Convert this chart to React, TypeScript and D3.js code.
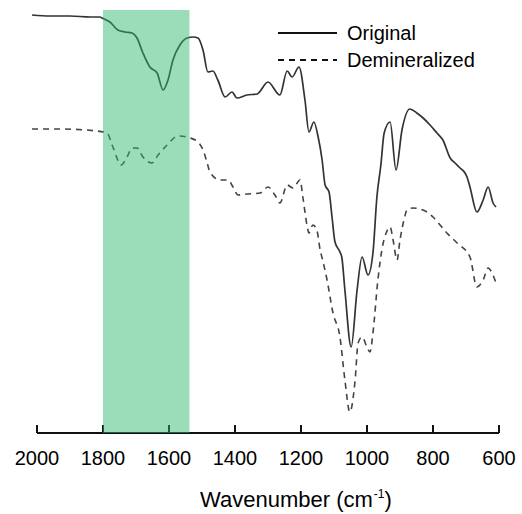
import React from "react";
import * as d3 from "d3";

// Wavenumber (cm-1), transmittance (a.u.)
const originalWavenumber = [2015, 1961, 1900, 1839, 1809, 1803, 1779, 1755, 1733, 1712, 1697, 1679, 1658, 1636, 1618, 1603, 1588, 1567, 1545, 1527, 1512, 1497, 1482, 1467, 1452, 1430, 1409, 1394, 1364, 1333, 1300, 1264, 1242, 1227, 1206, 1188, 1176, 1161, 1148, 1136, 1127, 1115, 1106, 1097, 1082, 1076, 1067, 1048, 1030, 1015, 997, 982, 970, 958, 948, 930, 912, 894, 870, 849, 830, 809, 788, 770, 748, 733, 718, 703, 697, 688, 667, 648, 633, 618, 609];
const originalValue = [418, 417, 417, 416, 416, 415, 411, 403, 401, 400, 395, 380, 366, 360, 343, 353, 373, 388, 395, 396, 395, 383, 361, 362, 353, 336, 341, 335, 338, 339, 351, 338, 362, 356, 366, 333, 301, 311, 296, 273, 248, 241, 216, 191, 181, 175, 143, 86, 143, 176, 158, 180, 236, 268, 300, 311, 263, 303, 324, 320, 315, 308, 300, 293, 275, 270, 265, 260, 256, 246, 221, 233, 246, 230, 226];

const demineralizedWavenumber = [2015, 1930, 1818, 1788, 1770, 1745, 1727, 1712, 1697, 1679, 1652, 1633, 1606, 1573, 1536, 1512, 1497, 1485, 1476, 1445, 1421, 1406, 1391, 1364, 1324, 1300, 1279, 1264, 1242, 1224, 1203, 1194, 1182, 1176, 1164, 1152, 1142, 1136, 1121, 1103, 1082, 1067, 1052, 1036, 1027, 1015, 1000, 991, 982, 967, 955, 942, 930, 921, 909, 900, 888, 879, 861, 818, 800, 758, 727, 688, 667, 648, 633, 621, 609];
const demineralizedValue = [304, 304, 302, 300, 286, 268, 276, 285, 285, 276, 270, 278, 288, 297, 295, 291, 283, 271, 261, 253, 253, 246, 238, 239, 240, 246, 238, 230, 248, 245, 253, 235, 208, 200, 208, 203, 183, 175, 153, 120, 96, 53, 21, 53, 90, 96, 86, 81, 100, 153, 183, 200, 206, 193, 173, 193, 213, 223, 225, 221, 216, 200, 190, 176, 146, 153, 165, 160, 150];

const xTicks = [2000, 1800, 1600, 1400, 1200, 1000, 800, 600];
const highlightBand = [1800, 1538];
const legendLabels = ["Original", "Demineralized"];

export default function App() {
  const W = 522;
  const H = 514;
  const x = d3.scaleLinear().domain([2000, 600]).range([37, 499]);
  const y = d3.scaleLinear().domain([0, 423]).range([433, 10]);
  const axisY = 433;

  const orig = originalWavenumber.map((w, i) => [w, originalValue[i]] as [number, number]);
  const demin = demineralizedWavenumber.map((w, i) => [w, demineralizedValue[i]] as [number, number]);

  const line = d3
    .line<[number, number]>()
    .x((d) => x(d[0]))
    .y((d) => y(d[1]))
    .curve(d3.curveMonotoneX);

  const font = "Arial, 'Liberation Sans', sans-serif";

  return (
    <svg
      width={W}
      height={H}
      style={{ position: "absolute", left: 0, top: 0, background: "#fff" }}
      fontFamily={font}
    >
      <rect x={0} y={0} width={W} height={H} fill="#fff" />
      {/* axis */}
      <line x1={x(2000)} x2={x(600)} y1={axisY} y2={axisY} stroke="#111" strokeWidth={2} />
      {xTicks.map((t) => (
        <g key={t}>
          <line x1={x(t)} x2={x(t)} y1={axisY} y2={axisY - 8} stroke="#111" strokeWidth={2} />
          <text x={x(t)} y={465} textAnchor="middle" fontSize={20} fill="#000">
            {t}
          </text>
        </g>
      ))}
      <text x={200} y={507} fontSize={22} fill="#000">
        Wavenumber (cm
        <tspan dx={1} dy={-9} fontSize={12}>-1</tspan>
        <tspan dy={9} fontSize={22}>)</tspan>
      </text>

      {/* curves */}
      <path d={line(orig) || ""} fill="none" stroke="#333" strokeWidth={1.7} />
      <path d={line(demin) || ""} fill="none" stroke="#444" strokeWidth={1.6} strokeDasharray="6,5" />

      {/* highlight band */}
      <rect
        x={x(highlightBand[0])}
        y={y(423)}
        width={x(highlightBand[1]) - x(highlightBand[0])}
        height={axisY - y(423)}
        fill="#2eb86a"
        opacity={0.48}
      />

      {/* legend */}
      <line x1={278} x2={337} y1={33} y2={33} stroke="#111" strokeWidth={2} />
      <text x={347} y={40} fontSize={20} fill="#000">{legendLabels[0]}</text>
      <line x1={278} x2={337} y1={60} y2={60} stroke="#111" strokeWidth={2} strokeDasharray="6,5" />
      <text x={347} y={67} fontSize={20} fill="#000">{legendLabels[1]}</text>
    </svg>
  );
}
